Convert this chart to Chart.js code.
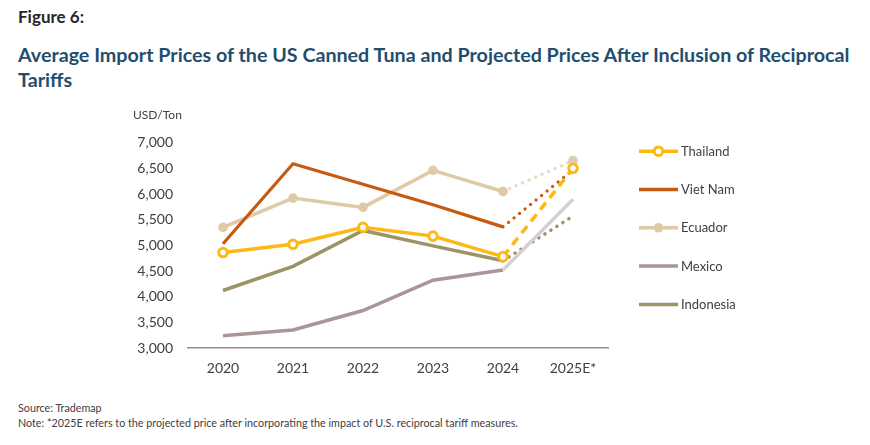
<!DOCTYPE html>
<html>
<head>
<meta charset="utf-8">
<script src="https://cdn.jsdelivr.net/npm/chart.js@4.4.1/dist/chart.umd.min.js"></script>
<style>
  body { margin: 0; background: #fff; width: 870px; height: 445px; overflow: hidden; font-family: Lato, sans-serif; }
  .txt { position: absolute; white-space: nowrap; }
  #fig { left: 18px; top: 6px; font-size: 17px; font-weight: bold; color: #262626; }
  #title { left: 18px; top: 42px; font-size: 19.7px; font-weight: bold; color: #1f4e6e; line-height: 25px; }
  #source { left: 18px; top: 400px; font-size: 10.75px; color: #404040; line-height: 15px; }
  #box { position: absolute; left: 133px; top: 100px; width: 737px; height: 288px; }
</style>
</head>
<body>
<div class="txt" id="fig">Figure 6:</div>
<div class="txt" id="title">Average Import Prices of the US Canned Tuna and Projected Prices After Inclusion of Reciprocal<br>Tariffs</div>
<div id="box"><canvas id="myChart"></canvas></div>
<div class="txt" id="source">Source: Trademap<br>Note: *2025E refers to the projected price after incorporating the impact of U.S. reciprocal tariff measures.</div>

<script>
// values, USD per ton
let years = ["2020", "2021", "2022", "2023", "2024", "2025E*"]
let countries = ["Thailand", "Viet Nam", "Ecuador", "Mexico", "Indonesia"]
let thailand = [4860, 5020, 5350, 5180, 4780, 6500]
let vietNam = [5030, 6590, 6190, 5790, 5360, 6470]
let ecuador = [5350, 5920, 5740, 6460, 6050, 6650]
let mexico = [3240, 3350, 3730, 4320, 4520, 5900]
let indonesia = [4120, 4590, 5290, 4990, 4700, 5570]
let yTicks = [3000, 3500, 4000, 4500, 5000, 5500, 6000, 6500, 7000]

Chart.defaults.font.family = "Lato"
Chart.defaults.color = "#404040"

// the last segment (2024 -> 2025E) is the projection
function proj(a, b) {
    return ctx => ctx.p1DataIndex === years.length - 1 ? a : b
}

const dotted = [0.1, 7]

// draws the legend to the right of the plot
const sideLegend = {
    id: "sideLegend",
    afterDraw(chart) {
        const c = chart.ctx
        const area = chart.chartArea
        chart.data.datasets.forEach((ds, i) => {
            let y = area.top + 8.5 + i * 38.3
            let x0 = area.right + 31
            let x1 = x0 + 39
            c.save()
            c.strokeStyle = ds.borderColor
            c.lineWidth = 3.5
            c.lineCap = "butt"
            c.beginPath()
            c.moveTo(x0, y)
            c.lineTo(x1, y)
            c.stroke()
            if (ds.pointRadius > 0) {
                let fill = Array.isArray(ds.pointBackgroundColor) ? ds.pointBackgroundColor[0] : ds.pointBackgroundColor
                c.beginPath()
                c.arc((x0 + x1) / 2, y, ds.pointRadius, 0, Math.PI * 2)
                c.fillStyle = fill
                c.fill()
                if (ds.pointBorderWidth > 0) {
                    c.lineWidth = ds.pointBorderWidth
                    c.strokeStyle = ds.pointBorderColor
                    c.stroke()
                }
            }
            c.fillStyle = "#404040"
            c.font = "13px Lato"
            c.textBaseline = "middle"
            c.fillText(ds.label, x1 + 3, y + 0.5)
            c.restore()
        })
    }
}

const ctx = document.getElementById("myChart")

new Chart(ctx, {
    type: "line",
    data: {
        labels: years,
        datasets: [
            {
                label: countries[0],
                data: thailand,
                borderColor: "#fdb913",
                borderWidth: 3.5,
                pointRadius: 4.3,
                pointBorderWidth: 3,
                pointBorderColor: "#fdb913",
                pointBackgroundColor: "#ffffff",
                segment: { borderDash: proj([9, 6], undefined) }
            },
            {
                label: countries[1],
                data: vietNam,
                borderColor: "#c55a11",
                borderWidth: 3.2,
                pointRadius: 0,
                segment: {
                    borderDash: proj(dotted, undefined),
                    borderCapStyle: proj("round", "butt")
                }
            },
            {
                label: countries[2],
                data: ecuador,
                borderColor: "#dfcaa6",
                borderWidth: 3.5,
                pointRadius: 4.8,
                pointBorderWidth: 0,
                pointBorderColor: "#dfcaa6",
                pointBackgroundColor: ["#dfcaa6", "#dfcaa6", "#dfcaa6", "#dfcaa6", "#dfcaa6", "#dacdb9"],
                segment: {
                    borderDash: proj(dotted, undefined),
                    borderCapStyle: proj("round", "butt"),
                    borderColor: proj("#e8dcc6", "#dfcaa6")
                }
            },
            {
                label: countries[3],
                data: mexico,
                borderColor: "#ab9595",
                borderWidth: 3.5,
                pointRadius: 0,
                segment: { borderColor: proj("#d9cfd1", "#ab9595") }
            },
            {
                label: countries[4],
                data: indonesia,
                borderColor: "#9c9466",
                borderWidth: 3.5,
                pointRadius: 0,
                segment: {
                    borderDash: proj(dotted, undefined),
                    borderCapStyle: proj("round", "butt")
                }
            }
        ]
    },
    options: {
        responsive: true,
        maintainAspectRatio: false,
        animation: false,
        layout: { padding: { left: 0, right: 262, top: 0, bottom: 0 } },
        plugins: {
            legend: { display: false },
            tooltip: { enabled: false },
            title: {
                display: true,
                text: "USD/Ton",
                align: "start",
                color: "#404040",
                font: { size: 12, weight: "normal" },
                padding: { top: 8, bottom: 20.3 }
            }
        },
        scales: {
            x: {
                offset: true,
                grid: { display: false, drawTicks: false },
                border: { display: true, color: "#9a8a8a", width: 1.5 },
                ticks: { font: { size: 14 }, padding: 12 },
                afterFit: s => { s.height = 40 }
            },
            y: {
                min: 3000,
                max: 7000,
                grid: { display: false, drawTicks: false },
                border: { display: false },
                afterBuildTicks: s => { s.ticks = yTicks.map(v => ({ value: v })) },
                ticks: {
                    font: { size: 14 },
                    padding: 15,
                    callback: v => v.toLocaleString("en-US")
                },
                afterFit: s => { s.width = 55 }
            }
        }
    },
    plugins: [sideLegend]
})
</script>
</body>
</html>
